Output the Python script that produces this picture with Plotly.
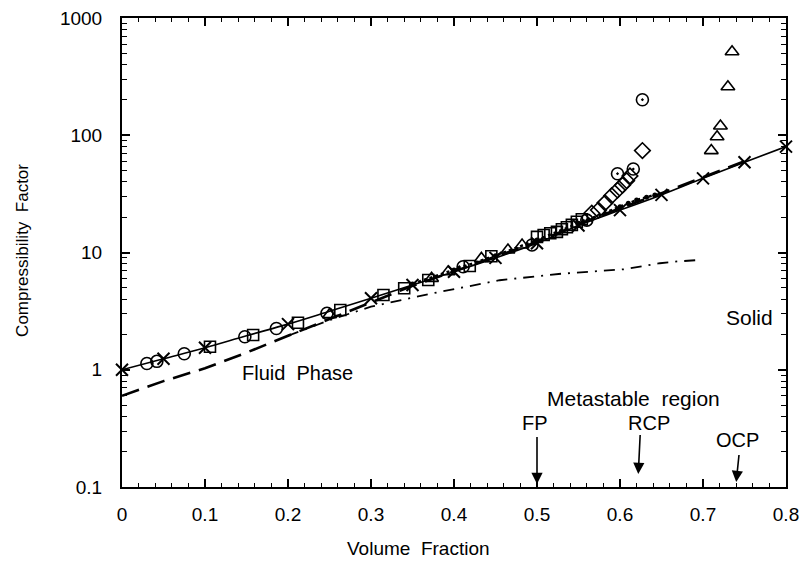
import numpy as np
import plotly.graph_objects as go

# ---------------- data ----------------
theory_x = [0, 0.05, 0.1, 0.15, 0.2, 0.25, 0.3, 0.35, 0.4, 0.45, 0.5, 0.55, 0.6, 0.65, 0.7, 0.75, 0.8]
theory_y = [1.0, 1.24, 1.54, 1.95, 2.45, 3.15, 4.07, 5.28, 6.86, 9.0, 12.0, 17.0, 23.0, 31.0, 42.9, 58.8, 80.0]

cross_x = [0, 0.05, 0.1, 0.2, 0.3, 0.35, 0.4, 0.45, 0.5, 0.55, 0.6, 0.65, 0.7, 0.75, 0.8]
cross_y = [1.0, 1.24, 1.54, 2.45, 4.07, 5.28, 6.86, 9.0, 12.0, 17.0, 23.0, 31.0, 42.9, 58.8, 80.0]

dashed_x = [0, 0.05, 0.1, 0.15, 0.2, 0.25, 0.3, 0.35, 0.4, 0.45, 0.5, 0.55, 0.6, 0.65, 0.7, 0.75]
dashed_y = [0.6, 0.8, 1.03, 1.4, 1.95, 2.7, 3.75, 5.2, 6.9, 9.2, 12.3, 17.4, 23.8, 32, 44, 60]

dashdot_x = [0.2, 0.25, 0.3, 0.375, 0.455, 0.53, 0.606, 0.628, 0.648, 0.67, 0.692]
dashdot_y = [1.95, 2.65, 3.45, 4.5, 5.8, 6.6, 7.2, 7.6, 8.1, 8.4, 8.6]

dotted_x = [0.35, 0.4, 0.45, 0.5, 0.55, 0.6, 0.61, 0.62, 0.632, 0.642]
dotted_y = [5.4, 7.1, 9.4, 12.8, 17.8, 24.5, 26.3, 28.0, 29.6, 31.0]

circle_x = [0.03, 0.042, 0.075, 0.148, 0.186, 0.247, 0.411, 0.494]
circle_y = [1.13, 1.18, 1.37, 1.91, 2.25, 3.03, 7.56, 11.6]

circledot_x = [0.56, 0.597, 0.616, 0.627]
circledot_y = [18.9, 47, 51.5, 201]

square_x = [0.106, 0.158, 0.212, 0.263, 0.315, 0.34, 0.369, 0.419, 0.445,
            0.5, 0.508, 0.516, 0.524, 0.53, 0.536, 0.542, 0.548, 0.554]
square_y = [1.57, 1.98, 2.52, 3.23, 4.34, 4.95, 5.82, 7.67, 9.3,
            13.6, 14.1, 14.6, 15.0, 15.8, 16.4, 17.2, 18.3, 19.2]

diamond_x = [0.566, 0.574, 0.582, 0.59, 0.597, 0.603, 0.608, 0.612, 0.627]
diamond_y = [21.6, 23.0, 26.5, 30.5, 34, 37.5, 41, 45, 74]

triangle_x = [0.25, 0.373, 0.393, 0.433, 0.465, 0.482, 0.710, 0.717, 0.721, 0.730, 0.735]
triangle_y = [2.95, 6.02, 6.86, 8.9, 10.5, 11.6, 74, 97, 120, 259, 516]

x_ticks = [0, 0.1, 0.2, 0.3, 0.4, 0.5, 0.6, 0.7, 0.8]
x_ticktext = ["0", "0.1", "0.2", "0.3", "0.4", "0.5", "0.6", "0.7", "0.8"]
y_ticks = [0.1, 1, 10, 100, 1000]
y_ticktext = ["0.1", "1", "10", "100", "1000"]

# ---------------- figure ----------------
FONT = "Liberation Sans, Arial, Helvetica, sans-serif"
BLK = "black"
fig = go.Figure()

fig.add_trace(go.Scatter(x=dashdot_x, y=dashdot_y, mode="lines",
                         line=dict(color=BLK, width=1.8, dash="11px,7px,2px,7px")))
fig.add_trace(go.Scatter(x=dashed_x, y=dashed_y, mode="lines",
                         line=dict(color=BLK, width=2.6, dash="18px,9px")))
fig.add_trace(go.Scatter(x=theory_x, y=theory_y, mode="lines",
                         line=dict(color=BLK, width=1.6, shape="spline")))
fig.add_trace(go.Scatter(x=dotted_x, y=dotted_y, mode="lines+markers",
                         line=dict(color=BLK, width=2.5, dash="dot"),
                         marker=dict(symbol="circle", size=5, color=BLK)))

mk_line = dict(color=BLK, width=1.6)
fig.add_trace(go.Scatter(x=circle_x, y=circle_y, mode="markers",
                         marker=dict(symbol="circle-open", size=12, line=mk_line, color=BLK)))
fig.add_trace(go.Scatter(x=circledot_x, y=circledot_y, mode="markers",
                         marker=dict(symbol="circle-open-dot", size=12, line=mk_line, color=BLK)))
fig.add_trace(go.Scatter(x=square_x, y=square_y, mode="markers",
                         marker=dict(symbol="square-open", size=11, line=mk_line, color=BLK)))
fig.add_trace(go.Scatter(x=diamond_x, y=diamond_y, mode="markers",
                         marker=dict(symbol="diamond-open", size=12, line=mk_line, color=BLK)))
fig.add_trace(go.Scatter(x=triangle_x, y=triangle_y, mode="markers",
                         marker=dict(symbol="triangle-up-open", size=12, line=mk_line, color=BLK)))
fig.add_trace(go.Scatter(x=cross_x, y=cross_y, mode="markers", cliponaxis=False,
                         marker=dict(symbol="x-thin-open", size=12,
                                     line=dict(color=BLK, width=2), color=BLK)))

# log-decade minor ticks
y_minor = [m * 10.0 ** e for e in range(-1, 3) for m in range(2, 10)]
x_minor = [round(i * 0.02, 2) for i in range(41) if i % 5 != 0]

fig.update_layout(
    width=801, height=563,
    margin=dict(l=122, r=15, t=18, b=76, autoexpand=False),
    paper_bgcolor="white", plot_bgcolor="white",
    showlegend=False,
    font=dict(family=FONT, size=19, color=BLK),
    xaxis=dict(range=[0, 0.8], tickvals=x_ticks, ticktext=x_ticktext, automargin=False,
               showgrid=False, zeroline=False, showline=True, linecolor=BLK, linewidth=2,
               mirror="allticks", ticks="inside", ticklen=8, tickwidth=1.5, tickcolor=BLK,
               minor=dict(tickvals=x_minor, ticks="inside", ticklen=4, tickwidth=1.2,
                          tickcolor=BLK, showgrid=False),
               tickfont=dict(size=19), ticklabelstandoff=9),
    yaxis=dict(type="log", range=[-1, 3], tickvals=y_ticks, ticktext=y_ticktext, automargin=False,
               showgrid=False, zeroline=False, showline=True, linecolor=BLK, linewidth=2,
               mirror="allticks", ticks="inside", ticklen=8, tickwidth=1.5, tickcolor=BLK,
               minor=dict(tickvals=y_minor, ticks="inside", ticklen=5, tickwidth=1.2,
                          tickcolor=BLK, showgrid=False),
               tickfont=dict(size=19), ticklabelstandoff=14),
)

ann = []
def txt(x, y, s, xref="x", yref="y", angle=0, size=20):
    ann.append(dict(x=x, y=y, xref=xref, yref=yref, text=s, showarrow=False,
                    textangle=angle, font=dict(family=FONT, size=size, color=BLK),
                    xanchor="center", yanchor="middle"))

def arrow(x, ylog, ax, ay):
    ann.append(dict(x=x, y=ylog, xref="x", yref="y", text=" ", showarrow=True,
                    ax=ax, ay=ay, arrowhead=2, arrowsize=1.4, arrowwidth=1.6,
                    arrowcolor=BLK, standoff=0, startstandoff=0,
                    font=dict(size=1)))

def ylog_px(py):
    return (487 - py) / 117.25 - 1

txt(0.212, ylog_px(373), "Fluid  Phase", size=20)
txt(0.616, ylog_px(398), "Metastable  region", size=21)
txt(0.756, ylog_px(317), "Solid", size=21)
txt(0.498, ylog_px(423), "FP", size=20)
txt(0.635, ylog_px(423), "RCP", size=20)
txt(0.742, ylog_px(440), "OCP", size=20)
arrow(0.5, ylog_px(484), 0, -49)
arrow(0.622, ylog_px(474), 2, -41)
arrow(0.74, ylog_px(482), 3, -29)

txt(0.447, -0.132, "Volume  Fraction", xref="paper", yref="paper", size=19)
txt(-0.151, 0.505, "Compressibility  Factor", xref="paper", yref="paper", angle=-90, size=17)

fig.update_layout(annotations=ann)
fig.write_html("out.html", config={"displayModeBar": False},
               post_script="document.body.style.margin='0';document.body.style.overflow='hidden';")
